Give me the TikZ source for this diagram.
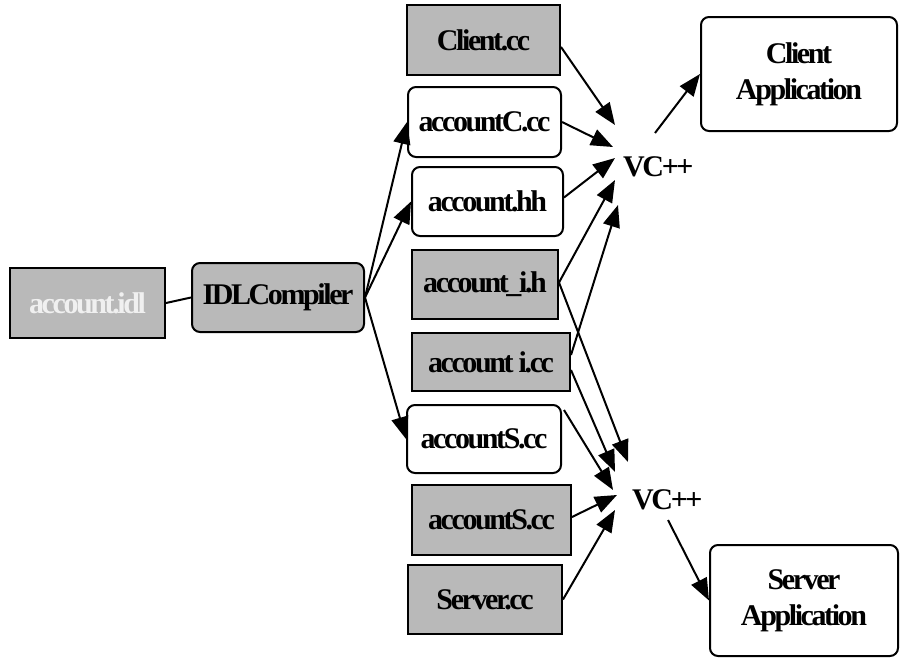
\documentclass[tikz,border=0pt]{standalone}
\usepackage{fontspec}
\setmainfont{Liberation Serif}
\usetikzlibrary{arrows.meta,calc}
\begin{document}
\begin{tikzpicture}[x=1pt,y=-1pt,
  every node/.style={font=\fontsize{30}{31}\selectfont\bfseries\addfontfeature{LetterSpace=-8}},
  graybox/.style={draw=black,line width=2pt,fill=gray!55,minimum width=#1,minimum height=69pt,inner sep=0pt},
  whitebox/.style={draw=black,line width=2pt,fill=white,rounded corners=8pt,minimum width=#1,minimum height=69pt,inner sep=0pt},
  arr/.style={line width=2pt,-{Triangle[length=22pt,width=17pt]}},
  conn/.style={line width=2pt}]
\useasboundingbox (0,0) rectangle (900,659);
\node[graybox=155pt,minimum height=70pt,text=gray!12] (idl) at (87.5,303) {account.idl};
\node[graybox=172pt,rounded corners=8pt] (comp) at (278,297.5) {IDLCompiler};
\node[graybox=153pt,minimum height=70pt] (cl) at (483.5,40) {Client.cc};
\node[whitebox=153pt,minimum height=70pt] (accC) at (484.5,122) {accountC.cc};
\node[whitebox=151pt] (hh) at (487.5,201.5) {account.hh};
\node[graybox=146pt] (ih) at (485,284.5) {account\_i.h};
\node[graybox=158pt,minimum height=58pt] (icc) at (491,362) {account i.cc};
\node[whitebox=154pt,minimum height=68pt] (accSw) at (484,439) {accountS.cc};
\node[graybox=159pt,minimum height=70pt] (accSg) at (491.5,520) {accountS.cc};
\node[graybox=154pt] (srv) at (485,599.5) {Server.cc};
\node[whitebox=196pt,minimum height=114pt,align=center,font=\fontsize{30}{36}\selectfont\bfseries\addfontfeature{LetterSpace=-8}] (capp) at (799,74) {Client\\Application};
\node[whitebox=188pt,minimum height=111pt,align=center,font=\fontsize{30}{36}\selectfont\bfseries\addfontfeature{LetterSpace=-8}] (sapp) at (804,600.5) {Server\\Application};
\node[anchor=west,inner sep=0pt] (vc1) at (623,167) {VC++};
\node[anchor=west,inner sep=0pt] (vc2) at (632,500) {VC++};
% idl to compiler
\draw[conn] (idl.east) -- (comp.west);
% compiler fan out
\draw[arr] (comp.east) -- (accC.west);
\draw[arr] (comp.east) -- (hh.west);
\draw[arr] (comp.east) -- (accSw.west);
% into top VC++
\draw[arr] ($(cl.east)+(0,7)$) -- ($(vc1.west)+(-8,-42)$);
\draw[arr] (accC.east) -- ($(vc1.west)+(-10,-20)$);
\draw[arr] ($(hh.east)+(0,-4)$) -- ($(vc1.west)+(-8,-9)$);
\draw[arr] ($(ih.east)+(0,-2)$) -- ($(vc1.west)+(-8,13)$);
\draw[arr] ($(icc.east)+(0,-7)$) -- ($(vc1.west)+(-5,38)$);
% into bottom VC++
\draw[arr] ($(ih.east)+(0,-2)$) -- ($(vc2.west)+(-4,-38)$);
\draw[arr] ($(icc.east)+(0,8)$) -- ($(vc2.west)+(-17,-28)$);
\draw[arr] ($(accSw.east)+(2,-29)$) -- ($(vc2.west)+(-19,-10)$);
\draw[arr] ($(accSg.east)+(0,-3)$) -- ($(vc2.west)+(-15,-5)$);
\draw[arr] (srv.east) -- ($(vc2.west)+(-17,10)$);
% outputs
\draw[arr] ($(vc1.west)+(32,-34)$) -- (capp.west);
\draw[arr] ($(vc2.west)+(36,20)$) -- (sapp.west);
\end{tikzpicture}
\end{document}
